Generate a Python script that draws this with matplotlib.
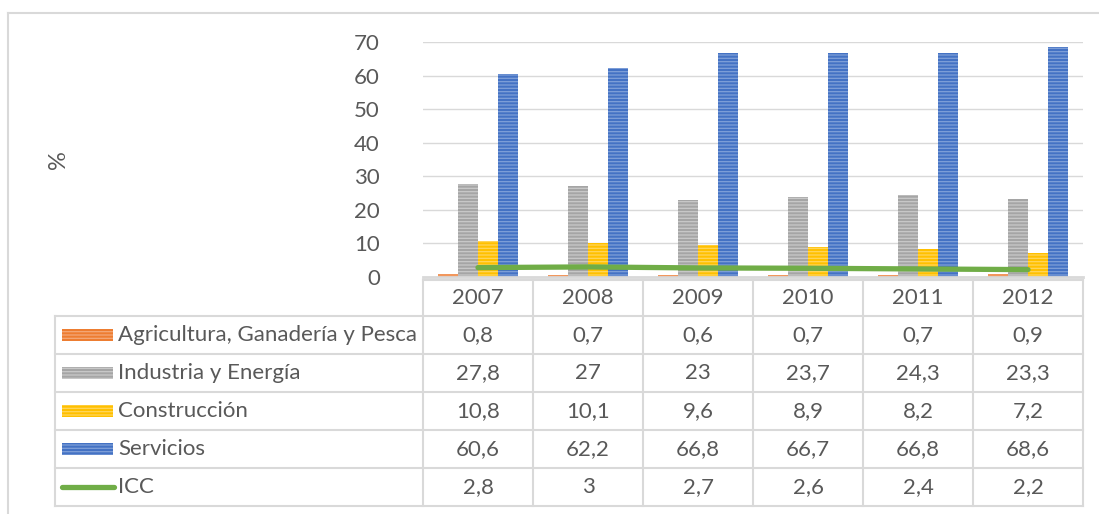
import matplotlib

matplotlib.use("Agg")
import matplotlib.pyplot as plt
from matplotlib.lines import Line2D
from matplotlib.patches import Rectangle

years = ["2007", "2008", "2009", "2010", "2011", "2012"]
agricultura = [0.8, 0.7, 0.6, 0.7, 0.7, 0.9]
industria = [27.8, 27, 23, 23.7, 24.3, 23.3]
construccion = [10.8, 10.1, 9.6, 8.9, 8.2, 7.2]
servicios = [60.6, 62.2, 66.8, 66.7, 66.8, 68.6]
icc = [2.8, 3, 2.7, 2.6, 2.4, 2.2]

bar_series = [
    ("Agricultura, Ganadería y Pesca", agricultura, "#ED7D31", "#F4A878"),
    ("Industria y Energía", industria, "#A5A5A5", "#C9C9C9"),
    ("Construcción", construccion, "#FFC000", "#FFD65C"),
    ("Servicios", servicios, "#4472C4", "#7F9FD8"),
]
line_color = "#70AD47"
text_color = "#595959"
grid_color = "#D9D9D9"
fs = 16

plt.rcParams["font.family"] = ["Lato", "DejaVu Sans"]
plt.rcParams["hatch.linewidth"] = 0.9

W, H = 1099, 514
fig = plt.figure(figsize=(W / 100, H / 100), dpi=100)


def fx(px):
    return px / W


def fy(py):
    return 1 - py / H


ax = fig.add_axes([fx(423), fy(277), fx(1083) - fx(423), fy(42) - fy(277)])

width = 0.18
offsets = [-0.27, -0.09, 0.09, 0.27]
x = list(range(len(years)))
for (name, vals, col, stripe), off in zip(bar_series, offsets):
    ax.bar([i + off for i in x], vals, width=width, color=col,
           edgecolor=stripe, linewidth=0, hatch="-----", zorder=2)
ax.plot(x, icc, color=line_color, linewidth=3.8, solid_capstyle="round", zorder=3)

ax.set_xlim(-0.5, len(years) - 0.5)
ax.set_ylim(0, 70)
ax.set_yticks(range(0, 71, 10))
ax.set_xticks([])
ax.grid(axis="y", color=grid_color, linewidth=1, zorder=0)
for s in ["top", "right", "left"]:
    ax.spines[s].set_visible(False)
ax.spines["bottom"].set_color(grid_color)
ax.spines["bottom"].set_linewidth(2)
ax.tick_params(axis="y", length=0, pad=31, labelsize=fs, labelcolor=text_color)

fig.text(fx(58), fy(160), "%", rotation=90, ha="center", va="center",
         fontsize=fs + 1, color=text_color)

# data table under the plot
col_left = 423
col_w = 110
label_left = 55
row_tops = [280, 316, 354, 392, 430, 468, 506]
line_kw = dict(color=grid_color, linewidth=1.5, transform=fig.transFigure)

for i in range(len(years) + 1):
    xx = fx(col_left + i * col_w)
    fig.add_artist(Line2D([xx, xx], [fy(row_tops[0]), fy(row_tops[-1])], **line_kw))
fig.add_artist(Line2D([fx(label_left)] * 2, [fy(row_tops[1]), fy(row_tops[-1])], **line_kw))
fig.add_artist(Line2D([fx(col_left), fx(col_left + len(years) * col_w)],
                      [fy(row_tops[0])] * 2, **line_kw))
for yy in row_tops[1:]:
    fig.add_artist(Line2D([fx(label_left), fx(col_left + len(years) * col_w)],
                          [fy(yy)] * 2, **line_kw))

for i, yr in enumerate(years):
    fig.text(fx(col_left + (i + 0.5) * col_w), fy((row_tops[0] + row_tops[1]) / 2), yr,
             ha="center", va="center", fontsize=fs, color=text_color)


def fmt(v):
    return f"{v:g}".replace(".", ",")


rows = [(n, v) for n, v, _, _ in bar_series] + [("ICC", icc)]
for r, (name, vals) in enumerate(rows):
    yc = (row_tops[r + 1] + row_tops[r + 2]) / 2
    if r < len(bar_series):
        _, _, col, stripe = bar_series[r]
        fig.add_artist(Rectangle((fx(62), fy(yc + 6)), fx(113) - fx(62), fy(yc - 6) - fy(yc + 6),
                                 facecolor=col, edgecolor=stripe, linewidth=0,
                                 hatch="-----", transform=fig.transFigure))
    else:
        fig.add_artist(Line2D([fx(62), fx(114)], [fy(yc)] * 2, color=line_color,
                              linewidth=3.8, solid_capstyle="round",
                              transform=fig.transFigure))
    fig.text(fx(118), fy(yc), name, ha="left", va="center", fontsize=fs, color=text_color)
    for i, v in enumerate(vals):
        fig.text(fx(col_left + (i + 0.5) * col_w), fy(yc), fmt(v),
                 ha="center", va="center", fontsize=fs, color=text_color)

# outer chart border (left and top edges visible)
fig.add_artist(Line2D([fx(8), fx(8)], [fy(13), 0], **line_kw))
fig.add_artist(Line2D([fx(8), 1], [fy(13), fy(13)], **line_kw))

fig.savefig("out.png", dpi=100)
